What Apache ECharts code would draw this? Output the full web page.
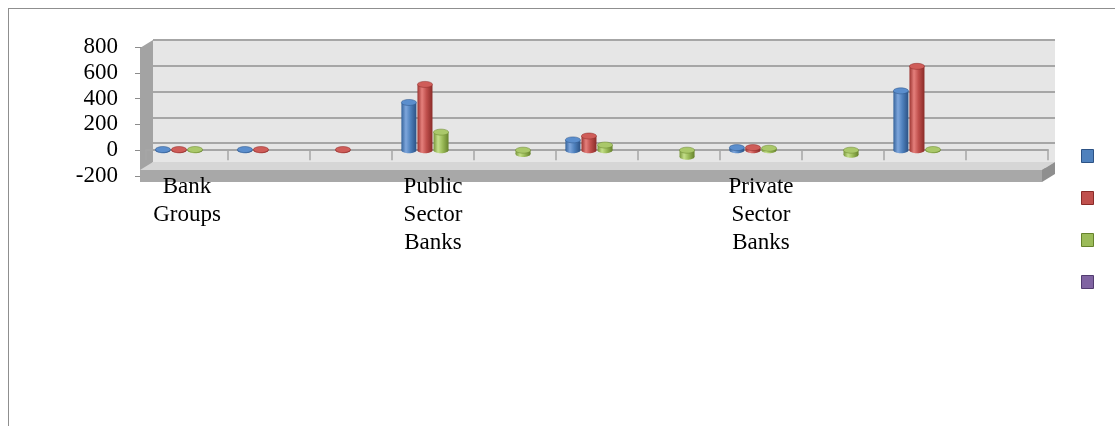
<!DOCTYPE html>
<html>
<head>
<meta charset="utf-8">
<title>Bank Groups</title>
<script src="https://cdn.jsdelivr.net/npm/echarts@6/dist/echarts.min.js"></script>
<style>
  html, body { margin: 0; padding: 0; background: #fff; }
  #frame { position: absolute; left: 8px; top: 8px; width: 1120px; height: 440px; border: 1px solid #8f8f8f; }
  #main { position: absolute; left: 0; top: 0; width: 1115px; height: 426px; }
</style>
</head>
<body>
<div id="frame"></div>
<div id="main"></div>
<script>
// categories along the floor (only three of them are labelled)
const categories = ["Bank\nGroups", "", "", "Public\nSector\nBanks", "", "", "", "Private\nSector\nBanks", "", "", ""];
const seriesNames = ["Series 1", "Series 2", "Series 3", "Series 4"];

const blueValues = [5, 5, null, 370, null, 80, null, 20, null, 460, null];
const redValues = [5, 5, 5, 510, null, 110, null, 20, null, 650, null];
const greenValues = [5, null, null, 140, -30, 40, -50, 15, -35, 5, null];
const purpleValues = [null, null, null, null, null, null, null, null, null, null, null];

const yMin = -200;
const yMax = 800;
const yStep = 200;

const valueSets = [blueValues, redValues, greenValues, purpleValues];

// base colour, cylinder shading (edge, highlight, body, shadow), top cap
const colors = ["#4f81bd", "#c0504d", "#9bbb59", "#8064a2"];
const shades = [
  ["#35639b", "#7ea6dc", "#4f81bd", "#2c5285", "#5b8ecd"],
  ["#9c3431", "#e5807c", "#c0504d", "#8a2b28", "#cf5d59"],
  ["#78963a", "#c4df8a", "#9bbb59", "#66822c", "#aac86a"],
  ["#604a82", "#a58bc6", "#8064a2", "#523c70", "#9277b6"]
];

const font = "Liberation Serif";

// plot box (front face) and 3D depth offset of the back wall
const L = 146, T = 47, W = 902, H = 129;
const R = L + W, B = T + H;
const DX = 7, DY = 7;

const cylinder = i => ({
  type: "linear", x: 0, y: 0, x2: 1, y2: 0,
  colorStops: [
    { offset: 0, color: shades[i][0] },
    { offset: 0.3, color: shades[i][1] },
    { offset: 0.6, color: shades[i][2] },
    { offset: 1, color: shades[i][3] }
  ]
});

/** one cylinder: bottom ellipse, body, top ellipse */
const renderCylinder = idx => (params, api) => {
  const cat = api.value(0);
  const v = api.value(1);
  const band = api.size([1, 0])[0];
  const step = band * 0.196;
  const bw = band * 0.183;
  const base = api.coord([cat, 0]);
  const end = api.coord([cat, v]);
  const cx = base[0] + (idx - 1.5) * step;
  const ry = 3;
  return {
    type: "group",
    children: [
      {
        type: "ellipse",
        shape: { cx: cx, cy: Math.max(base[1], end[1]), rx: bw / 2, ry: ry },
        style: { fill: cylinder(idx) }
      },
      {
        type: "rect",
        shape: { x: cx - bw / 2, y: Math.min(base[1], end[1]), width: bw, height: Math.abs(end[1] - base[1]) },
        style: { fill: cylinder(idx) }
      },
      {
        type: "ellipse",
        shape: { cx: cx, cy: Math.min(base[1], end[1]), rx: bw / 2, ry: ry },
        style: { fill: shades[idx][4], stroke: shades[idx][3], lineWidth: 0.5 }
      }
    ]
  };
};

const cylinderSeries = valueSets.map((vals, i) => ({
  name: seriesNames[i],
  type: "custom",
  renderItem: renderCylinder(i),
  encode: { x: 0, y: 1 },
  data: vals.map((v, c) => [c, v]).filter(d => d[1] != null),
  itemStyle: { color: colors[i] },
  z: 3
}));

const chart = echarts.init(document.getElementById("main"));
chart.setOption({
  animation: false,
  grid: [
    { left: L, top: T, width: W, height: H },
    // back wall, only for its gridlines
    { left: L + DX, top: T - DY, width: W, height: H }
  ],
  legend: {
    data: seriesNames.map((n, i) => ({
      name: n,
      itemStyle: { color: colors[i], borderColor: shades[i][3], borderWidth: 1 }
    })),
    orient: "vertical",
    left: 1076,
    top: 144,
    icon: "rect",
    itemWidth: 12,
    itemHeight: 13,
    itemGap: 28,
    selectedMode: false,
    formatter: () => ""
  },
  xAxis: [
    {
      type: "category",
      data: categories,
      z: 2,
      axisLine: { onZero: true, lineStyle: { color: "#a6a6a6", width: 2 } },
      axisTick: { show: true, interval: 0, length: 10, lineStyle: { color: "#a6a6a6", width: 1.5 } },
      axisLabel: { interval: 0, margin: -3, color: "#000", fontFamily: font, fontSize: 23, lineHeight: 28 },
      splitLine: { show: false }
    },
    { type: "category", gridIndex: 1, data: categories, show: false }
  ],
  yAxis: [
    {
      type: "value",
      min: yMin,
      max: yMax,
      interval: yStep,
      axisLine: { show: false },
      axisTick: { show: true, length: 11, lineStyle: { color: "#8c8c8c" } },
      axisLabel: { margin: 28, color: "#000", fontFamily: font, fontSize: 23 },
      splitLine: { show: false }
    },
    {
      type: "value",
      gridIndex: 1,
      min: yMin,
      max: yMax,
      interval: yStep,
      axisLine: { show: false },
      axisTick: { show: false },
      axisLabel: { show: false },
      splitLine: { lineStyle: { color: "#a6a6a6", width: 2 } }
    }
  ],
  // walls and floor of the 3D box
  graphic: [
    {
      type: "rect", z: -5,
      shape: { x: L + DX, y: T - DY, width: W, height: H - 7 },
      style: { fill: "#e6e6e6" }
    },
    {
      type: "polygon", z: 1,
      shape: { points: [[L + DX, T - DY], [L - 6, T + 1], [L - 6, B + 6], [L + DX, B - 14]] },
      style: { fill: "#a3a3a3" }
    },
    {
      type: "polygon", z: 1,
      shape: { points: [[L - 6, B - 6], [L + DX, B - 14], [R + DX, B - 14], [R - 6, B - 6]] },
      style: { fill: "#d6d6d6" }
    },
    {
      type: "rect", z: 1,
      shape: { x: L - 6, y: B - 6, width: W, height: 12 },
      style: { fill: "#a8a8a8" }
    },
    {
      type: "polygon", z: 1,
      shape: { points: [[R - 6, B - 6], [R + DX, B - 14], [R + DX, B - 2], [R - 6, B + 6]] },
      style: { fill: "#8f8f8f" }
    }
  ],
  series: cylinderSeries
});
</script>
</body>
</html>
